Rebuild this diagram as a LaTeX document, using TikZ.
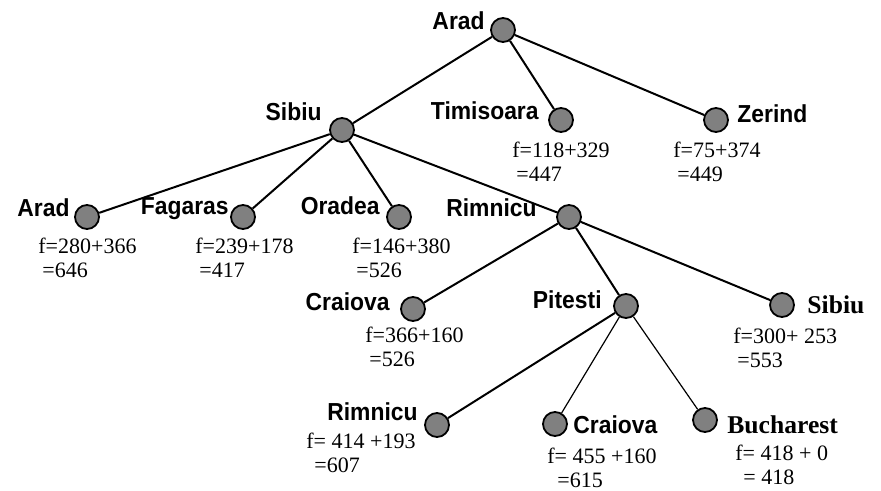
\documentclass[tikz,border=0pt]{standalone}
\usepackage{fontspec}
\setmainfont{Liberation Serif}
\setsansfont{Liberation Sans}[FakeStretch=0.93]
\usetikzlibrary{shapes}
\tikzset{
	searchnode/.style = {
		circle,
		draw=black,
		fill=black!50,
		line width=0.9pt,
		inner sep=0pt,
		minimum size=12pt
	},
	node_lbl/.style = {
		inner sep=0pt,
		font=\fontsize{12.3}{13}\selectfont\sffamily\bfseries
	},
	node_lbl_l/.style = {
		node_lbl,
		anchor=base east
	},
	node_lbl_r/.style = {
		node_lbl,
		anchor=base west
	},
	node_lbl_rm/.style = {
		node_lbl_r,
		font=\fontsize{12.8}{13}\selectfont\rmfamily\bfseries
	},
	node_f/.style = {
		inner sep=0pt,
		align=left,
		anchor=north west,
		font=\fontsize{11}{12}\selectfont\rmfamily
	},
	edge_thick/.style = {
		line width=1pt
	},
	edge_thin/.style = {
		line width=0.6pt
	},
}

\begin{document}
\begin{tikzpicture}[x=0.5pt,y=-0.5pt]
\useasboundingbox (0,0) rectangle (881,491);
% circles of the search tree
\node [searchnode] (arad0) at (503,30) {};
\node [searchnode] (sibiu1) at (342,130) {};
\node [searchnode] (timis) at (561,120) {};
\node [searchnode] (zerind) at (716,120) {};
\node [searchnode] (arad2) at (87,217) {};
\node [searchnode] (fagar) at (243,217) {};
\node [searchnode] (orad) at (399,217) {};
\node [searchnode] (rimn) at (569,217) {};
\node [searchnode] (craiova) at (413,309) {};
\node [searchnode] (pitesti) at (626,306) {};
\node [searchnode] (sibiu3) at (782,305) {};
\node [searchnode] (rimn4) at (437,425) {};
\node [searchnode] (craiova4) at (555,424) {};
\node [searchnode] (buch) at (705,420) {};

% edges
\draw [edge_thick] (arad0) -- (sibiu1);
\draw [edge_thick] (arad0) -- (timis);
\draw [edge_thick] (arad0) -- (zerind);
\draw [edge_thick] (sibiu1) -- (arad2);
\draw [edge_thick] (sibiu1) -- (fagar);
\draw [edge_thick] (sibiu1) -- (orad);
\draw [edge_thick] (sibiu1) -- (rimn);
\draw [edge_thick] (rimn) -- (craiova);
\draw [edge_thick] (rimn) -- (pitesti);
\draw [edge_thick] (rimn) -- (sibiu3);
\draw [edge_thick] (pitesti) -- (rimn4);
\draw [edge_thin] (pitesti) -- (craiova4);
\draw [edge_thin] (pitesti) -- (buch);

% city names
\node [node_lbl_l] (l_arad0) at (485,30) {Arad};
\node [node_lbl_l] (l_sibiu1) at (322,121) {Sibiu};
\node [node_lbl_l] (l_timis) at (539,120) {Timisoara};
\node [node_lbl_r] (l_zerind) at (737,123) {Zerind};
\node [node_lbl_l] (l_arad2) at (70,217) {Arad};
\node [node_lbl_l] (l_fagar) at (229,215) {Fagaras};
\node [node_lbl_l] (l_orad) at (380,215) {Oradea};
\node [node_lbl_l] (l_rimn) at (537,217) {Rimnicu};
\node [node_lbl_l] (l_craiova) at (390,310) {Craiova};
\node [node_lbl_l] (l_pitesti) at (602,308) {Pitesti};
\node [node_lbl_rm] (l_sibiu3) at (807,313) {Sibiu};
\node [node_lbl_l] (l_rimn4) at (418,420) {Rimnicu};
\node [node_lbl_r] (l_craiova4) at (573,433) {Craiova};
\node [node_lbl_rm] (l_buch) at (727,433) {Bucharest};

% f values
\node [node_f] (f_timis) at (512,142) {f=118+329\\\hspace{2pt}=447};
\node [node_f] (f_zerind) at (673,142) {f=75+374\\\hspace{2pt}=449};
\node [node_f] (f_arad2) at (38,238) {f=280+366\\\hspace{2pt}=646};
\node [node_f] (f_fagar) at (195,238) {f=239+178\\\hspace{2pt}=417};
\node [node_f] (f_orad) at (352,238) {f=146+380\\\hspace{2pt}=526};
\node [node_f] (f_craiova) at (365,327) {f=366+160\\\hspace{2pt}=526};
\node [node_f] (f_sibiu3) at (733,328) {f=300+ 253\\\hspace{2pt}=553};
\node [node_f] (f_rimn4) at (306,433) {f= 414 +193\\\hspace{4pt}=607};
\node [node_f] (f_craiova4) at (547,448) {f= 455 +160\\\hspace{5pt}=615};
\node [node_f] (f_buch) at (735,445) {f= 418 + 0\\\hspace{4pt}= 418};
\end{tikzpicture}
\end{document}
